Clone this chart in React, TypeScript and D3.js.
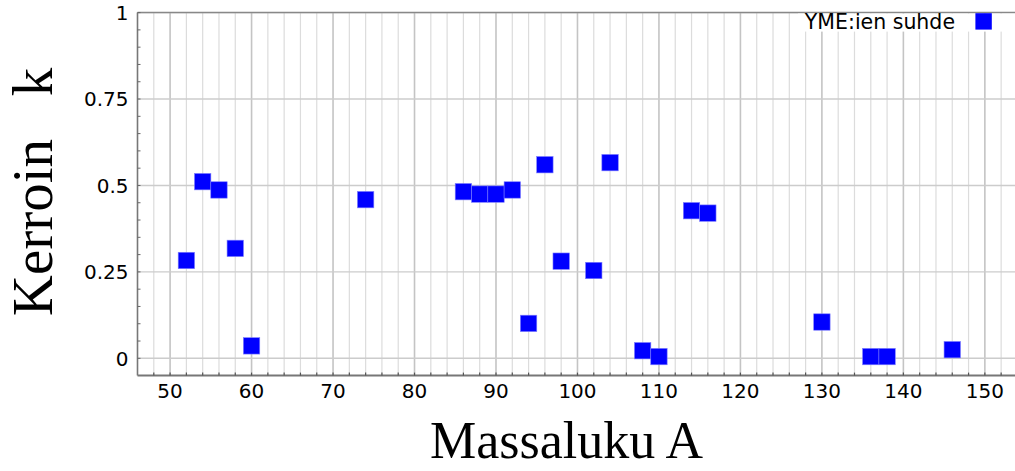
import React from "react";
import * as d3 from "d3";

// Mass number A of each measured nuclide
const massNumbers: number[] = [
  52, 54, 56, 58, 60, 74, 86, 88, 90, 92, 94, 96, 98, 102, 104, 108, 110, 114,
  116, 130, 136, 138, 146,
];

// Coefficient k (YME ratio) for each mass number
const ratios: number[] = [
  0.283, 0.511, 0.487, 0.318, 0.036, 0.459, 0.482, 0.475, 0.475, 0.487, 0.101,
  0.56, 0.281, 0.254, 0.566, 0.022, 0.005, 0.427, 0.42, 0.105, 0.005, 0.005,
  0.025,
];

const yTickValues: number[] = [0, 0.25, 0.5, 0.75, 1];
const yTickLabels: string[] = ["0", "0.25", "0.5", "0.75", "1"];
const xTickValues: number[] = [50, 60, 70, 80, 90, 100, 110, 120, 130, 140, 150];

const seriesName = "YME:ien suhde";
const xTitle = "Massaluku A";
const yTitle = "Kerroin   k";

const W = 1015;
const H = 471;
const left = 137.5;
const top = 12.6;
const bottom = 375.6;

export default function App() {
  const x = d3.scaleLinear().domain([46, 153.7]).range([left, W]);
  const y = d3.scaleLinear().domain([-0.05, 1]).range([bottom, top]);

  const minorX = d3.range(46, 154, 2).filter((v) => v > 46);
  const minorY = d3.range(0, 1.0001, 0.05);
  const markerSize = 16.4;
  const tickFont = "'DejaVu Sans', Verdana, sans-serif";

  return (
    <svg
      width={W}
      height={H}
      style={{ position: "absolute", left: 0, top: 0, background: "#fff" }}
    >
      {/* vertical grid every 2 units, darker every 10 */}
      {minorX.map((v) => (
        <line
          key={"gx" + v}
          x1={x(v)}
          x2={x(v)}
          y1={top}
          y2={bottom}
          stroke={v % 10 === 0 ? "#c4c4c4" : "#dcdcdc"}
          strokeWidth={v % 10 === 0 ? 1.6 : 1.2}
        />
      ))}
      {/* horizontal grid */}
      {yTickValues.map((v) => (
        <line
          key={"gy" + v}
          x1={left}
          x2={W}
          y1={y(v)}
          y2={y(v)}
          stroke="#cccccc"
          strokeWidth={1.4}
        />
      ))}
      {/* top frame */}
      <line x1={left} x2={W} y1={top} y2={top} stroke="#888" strokeWidth={1.5} />
      {/* legend */}
      <rect x={798} y={top + 1} width={W - 798} height={18} fill="#fff" />
      <text
        x={955}
        y={29.3}
        textAnchor="end"
        fontFamily={tickFont}
        fontSize={20.5}
        fill="#000"
      >
        {seriesName}
      </text>
      <rect
        x={975.4}
        y={13.2}
        width={markerSize}
        height={markerSize}
        fill="#0000ff"
      />
      {/* axes */}
      <line x1={left} x2={left} y1={top} y2={bottom} stroke="#777" strokeWidth={1.6} />
      <line x1={left} x2={W} y1={bottom} y2={bottom} stroke="#777" strokeWidth={2} />
      {minorY.map((v) => (
        <line
          key={"ty" + v}
          x1={left}
          x2={left + 3}
          y1={y(v)}
          y2={y(v)}
          stroke="#666"
          strokeWidth={1}
        />
      ))}
      {minorX.map((v) => (
        <line
          key={"tx" + v}
          x1={x(v)}
          x2={x(v)}
          y1={bottom - 3}
          y2={bottom}
          stroke="#555"
          strokeWidth={1.2}
        />
      ))}
      {yTickValues.map((v, i) => (
        <text
          key={"ly" + v}
          x={128.5}
          y={y(v)}
          dy="0.37em"
          textAnchor="end"
          fontFamily={tickFont}
          fontSize={20}
          fill="#000"
        >
          {yTickLabels[i]}
        </text>
      ))}
      {xTickValues.map((v) => (
        <text
          key={"lx" + v}
          x={x(v)}
          y={397.5}
          textAnchor="middle"
          fontFamily={tickFont}
          fontSize={20}
          fill="#000"
        >
          {v}
        </text>
      ))}
      {/* data points */}
      {massNumbers.map((a, i) => (
        <rect
          key={"p" + i}
          x={x(a) - markerSize / 2}
          y={y(ratios[i]) - markerSize / 2}
          width={markerSize}
          height={markerSize}
          fill="#0000ff"
          stroke="#7f7fff"
          strokeWidth={0.6}
        />
      ))}
      {/* axis titles */}
      <text
        x={566.5}
        y={458}
        textAnchor="middle"
        fontFamily="'Liberation Serif', 'Times New Roman', serif"
        fontSize={52}
        fill="#000"
      >
        {xTitle}
      </text>
      <text
        transform="translate(52,192) rotate(-90)"
        textAnchor="middle"
        fontFamily="'Liberation Serif', 'Times New Roman', serif"
        fontSize={57}
        fill="#000"
        style={{ whiteSpace: "pre" }}
      >
        {yTitle}
      </text>
    </svg>
  );
}
